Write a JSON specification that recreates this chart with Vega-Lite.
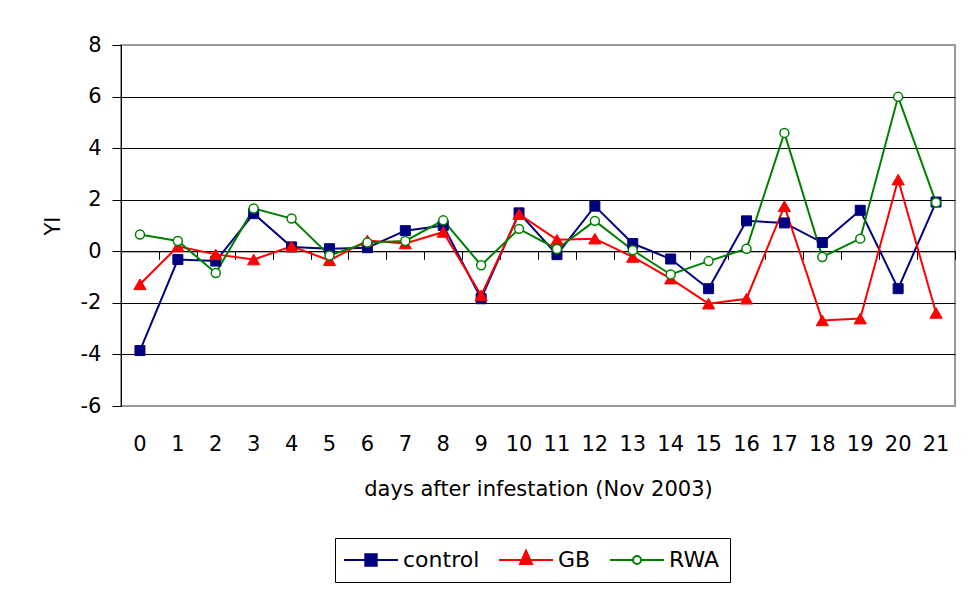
{
  "$schema": "https://vega.github.io/schema/vega-lite/v6.json",
  "width": 834,
  "height": 361,
  "autosize": {"type": "none"},
  "padding": {"left": 121, "top": 45, "right": 9, "bottom": 188},
  "background": "white",
  "config": {
    "view": {"stroke": "#999999", "strokeWidth": 2},
    "axis": {
      "labelFont": "DejaVu Sans",
      "titleFont": "DejaVu Sans",
      "labelColor": "black",
      "titleColor": "black",
      "titleFontWeight": "normal",
      "labelFontSize": 21,
      "titleFontSize": 21
    },
    "legend": {
      "orient": "none", "legendX": 214, "legendY": 493, "direction": "horizontal",
      "padding": 11, "strokeColor": "black", "fillColor": "white",
      "labelFont": "DejaVu Sans", "labelFontSize": 22, "labelColor": "black",
      "symbolSize": 144, "symbolStrokeWidth": 2, "symbolOffset": 14,
      "labelOffset": 21, "columnPadding": 15, "symbolOpacity": 1
    }
  },
  "data": {
    "values": [
      {"day": 0, "series": "control", "y": -3.85},
      {"day": 1, "series": "control", "y": -0.32},
      {"day": 2, "series": "control", "y": -0.38},
      {"day": 3, "series": "control", "y": 1.46},
      {"day": 4, "series": "control", "y": 0.17},
      {"day": 5, "series": "control", "y": 0.10},
      {"day": 6, "series": "control", "y": 0.14},
      {"day": 7, "series": "control", "y": 0.80},
      {"day": 8, "series": "control", "y": 1.0},
      {"day": 9, "series": "control", "y": -1.84},
      {"day": 10, "series": "control", "y": 1.49},
      {"day": 11, "series": "control", "y": -0.13},
      {"day": 12, "series": "control", "y": 1.75},
      {"day": 13, "series": "control", "y": 0.30},
      {"day": 14, "series": "control", "y": -0.30},
      {"day": 15, "series": "control", "y": -1.45},
      {"day": 16, "series": "control", "y": 1.18},
      {"day": 17, "series": "control", "y": 1.10},
      {"day": 18, "series": "control", "y": 0.34},
      {"day": 19, "series": "control", "y": 1.59},
      {"day": 20, "series": "control", "y": -1.45},
      {"day": 21, "series": "control", "y": 1.91},
      {"day": 0, "series": "GB", "y": -1.28},
      {"day": 1, "series": "GB", "y": 0.19},
      {"day": 2, "series": "GB", "y": -0.12},
      {"day": 3, "series": "GB", "y": -0.32},
      {"day": 4, "series": "GB", "y": 0.19},
      {"day": 5, "series": "GB", "y": -0.35},
      {"day": 6, "series": "GB", "y": 0.42},
      {"day": 7, "series": "GB", "y": 0.30},
      {"day": 8, "series": "GB", "y": 0.75},
      {"day": 9, "series": "GB", "y": -1.71},
      {"day": 10, "series": "GB", "y": 1.44},
      {"day": 11, "series": "GB", "y": 0.45},
      {"day": 12, "series": "GB", "y": 0.49},
      {"day": 13, "series": "GB", "y": -0.22},
      {"day": 14, "series": "GB", "y": -1.06},
      {"day": 15, "series": "GB", "y": -2.03},
      {"day": 16, "series": "GB", "y": -1.84},
      {"day": 17, "series": "GB", "y": 1.75},
      {"day": 18, "series": "GB", "y": -2.68},
      {"day": 19, "series": "GB", "y": -2.61},
      {"day": 20, "series": "GB", "y": 2.78},
      {"day": 21, "series": "GB", "y": -2.39},
      {"day": 0, "series": "RWA", "y": 0.65},
      {"day": 1, "series": "RWA", "y": 0.40},
      {"day": 2, "series": "RWA", "y": -0.84},
      {"day": 3, "series": "RWA", "y": 1.66},
      {"day": 4, "series": "RWA", "y": 1.27},
      {"day": 5, "series": "RWA", "y": -0.16},
      {"day": 6, "series": "RWA", "y": 0.34},
      {"day": 7, "series": "RWA", "y": 0.40},
      {"day": 8, "series": "RWA", "y": 1.20},
      {"day": 9, "series": "RWA", "y": -0.54},
      {"day": 10, "series": "RWA", "y": 0.87},
      {"day": 11, "series": "RWA", "y": 0.09},
      {"day": 12, "series": "RWA", "y": 1.18},
      {"day": 13, "series": "RWA", "y": 0.04},
      {"day": 14, "series": "RWA", "y": -0.90},
      {"day": 15, "series": "RWA", "y": -0.38},
      {"day": 16, "series": "RWA", "y": 0.10},
      {"day": 17, "series": "RWA", "y": 4.59},
      {"day": 18, "series": "RWA", "y": -0.22},
      {"day": 19, "series": "RWA", "y": 0.49},
      {"day": 20, "series": "RWA", "y": 5.99},
      {"day": 21, "series": "RWA", "y": 1.89}
    ]
  },
  "resolve": {"axis": {"x": "independent", "y": "independent"}},
  "layer": [
    {
      "transform": [{"filter": "datum.series === 'control'"}],
      "mark": {"type": "line", "strokeWidth": 2, "stroke": "#000080"},
      "encoding": {
        "x": {
          "field": "day", "type": "ordinal",
          "scale": {"type": "band", "paddingInner": 0, "paddingOuter": 0},
          "axis": {
            "orient": "bottom",
            "title": "days after infestation (Nov 2003)",
            "labelAngle": 0, "ticks": false, "tickSize": 0, "domain": false, "grid": false,
            "labelPadding": 27, "titlePadding": 24
          }
        },
        "y": {
          "field": "y", "type": "quantitative",
          "scale": {"domain": [-6, 8], "nice": false, "zero": false},
          "axis": {
            "orient": "left",
            "title": "YI",
            "values": [-6, -4, -2, 0, 2, 4, 6, 8],
            "labelExpr": "'' + datum.value",
            "grid": false,
            "domainColor": "black",
            "tickColor": "black",
            "tickSize": 9,
            "labelPadding": 11,
            "titlePadding": 17
          }
        }
      }
    },
    {
      "transform": [{"filter": "datum.series === 'GB'"}],
      "mark": {"type": "line", "strokeWidth": 2, "stroke": "#FF0000"},
      "encoding": {
        "x": {"field": "day", "type": "ordinal", "axis": null},
        "y": {"field": "y", "type": "quantitative", "axis": null}
      }
    },
    {
      "transform": [{"filter": "datum.series === 'RWA'"}],
      "mark": {"type": "line", "strokeWidth": 2, "stroke": "#008000"},
      "encoding": {
        "x": {"field": "day", "type": "ordinal", "axis": null},
        "y": {"field": "y", "type": "quantitative", "axis": null}
      }
    },
    {
      "transform": [{"filter": "datum.series === 'control'"}],
      "mark": {"type": "point", "shape": "square", "size": 100, "filled": true, "fill": "#000080", "stroke": "#000080", "strokeWidth": 1, "opacity": 1},
      "encoding": {
        "x": {"field": "day", "type": "ordinal", "axis": null},
        "y": {"field": "y", "type": "quantitative", "axis": null}
      }
    },
    {
      "transform": [{"filter": "datum.series === 'GB'"}],
      "mark": {"type": "point", "shape": "triangle-up", "size": 150, "filled": true, "fill": "#FF0000", "stroke": "#FF0000", "strokeWidth": 1, "opacity": 1},
      "encoding": {
        "x": {"field": "day", "type": "ordinal", "axis": null},
        "y": {"field": "y", "type": "quantitative", "axis": null}
      }
    },
    {
      "transform": [{"filter": "datum.series === 'RWA'"}],
      "mark": {"type": "point", "shape": "circle", "size": 80, "filled": false, "fill": "#FFFFFF", "stroke": "#008000", "strokeWidth": 1.5, "opacity": 1},
      "encoding": {
        "x": {"field": "day", "type": "ordinal", "axis": null},
        "y": {"field": "y", "type": "quantitative", "axis": null}
      }
    },
    {
      "transform": [{"filter": "datum.y > 100"}],
      "mark": {"type": "point", "filled": false, "opacity": 1},
      "encoding": {
        "x": {
          "field": "day", "type": "ordinal",
          "axis": {
            "orient": "bottom",
            "title": null, "labels": false, "grid": false,
            "domain": true, "domainColor": "black", "domainWidth": 1,
            "ticks": true, "tickColor": "black", "tickSize": 8, "tickBand": "extent",
            "offset": -154.7
          }
        },
        "y": {
          "field": "y", "type": "quantitative",
          "axis": {
            "orient": "left",
            "title": null, "labels": false, "ticks": false, "domain": false,
            "grid": true, "gridColor": "black", "gridOpacity": 1,
            "values": [-4, -2, 0, 2, 4, 6]
          }
        },
        "stroke": {
          "field": "series", "type": "nominal",
          "scale": {"domain": ["control", "GB", "RWA"], "range": ["#000080", "#FF0000", "#008000"]},
          "legend": {"title": null}
        },
        "fill": {
          "field": "series", "type": "nominal",
          "scale": {"domain": ["control", "GB", "RWA"], "range": ["#000080", "#FF0000", "#FFFFFF"]},
          "legend": {"title": null}
        },
        "shape": {
          "field": "series", "type": "nominal",
          "scale": {
            "domain": ["control", "GB", "RWA"],
            "range": [
              "M-4.5,0H4.5M-0.95,-0.95H0.95V0.95H-0.95Z",
              "M-4.5,0H4.5M0,-1.57L1,0.67H-1Z",
              "M-4.5,0H-0.67M0.67,0H4.5M0.67,0A0.67,0.67,0,1,1,-0.67,0A0.67,0.67,0,1,1,0.67,0Z"
            ]
          },
          "legend": {"title": null}
        }
      }
    }
  ]
}
